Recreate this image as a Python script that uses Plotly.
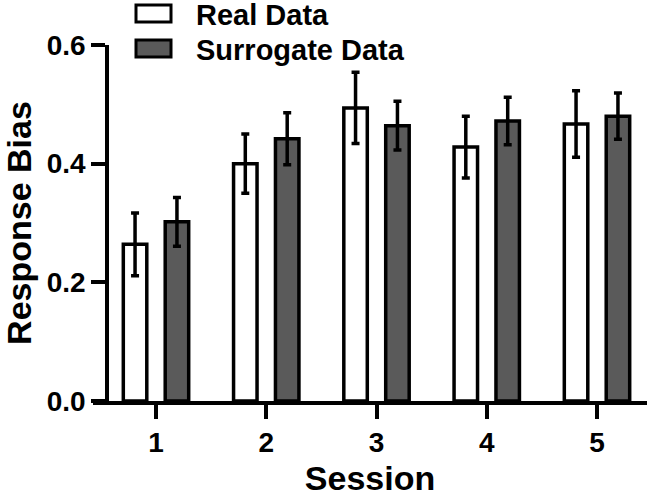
import plotly.graph_objects as go

sessions = [1, 2, 3, 4, 5]
tick_labels = ["1", "2", "3", "4", "5"]
real_mean = [0.264, 0.400, 0.494, 0.428, 0.467]
real_err = [0.053, 0.050, 0.060, 0.052, 0.056]
surr_mean = [0.302, 0.442, 0.464, 0.472, 0.480]
surr_err = [0.041, 0.044, 0.041, 0.040, 0.039]
series_names = ["Real Data", "Surrogate Data"]

FONT = "Liberation Sans, Arial, sans-serif"
BAR_W = 0.213
LINE_W = 3.5
OFF = 0.19

fig = go.Figure()
fig.add_trace(go.Bar(
    x=sessions, y=real_mean, name=series_names[0],
    width=BAR_W, offset=-OFF - BAR_W / 2,
    marker=dict(color="white", line=dict(color="black", width=LINE_W)),
    error_y=dict(type="data", array=real_err, visible=True, color="black", thickness=3.5, width=4),
    showlegend=False,
))
fig.add_trace(go.Bar(
    x=sessions, y=surr_mean, name=series_names[1],
    width=BAR_W, offset=OFF - BAR_W / 2,
    marker=dict(color="#5a5a5a", line=dict(color="black", width=LINE_W)),
    error_y=dict(type="data", array=surr_err, visible=True, color="black", thickness=3.5, width=4),
    showlegend=False,
))

# custom legend (paper coords)
L, R, T, B = 93, 647, 45, 401
W, H = R - L, B - T
def px_x(p):
    return (p - L) / W
def px_y(p):
    return (B - p) / H

legend_items = [(series_names[0], "white", 5, 22, 15), (series_names[1], "#5a5a5a", 40, 57, 50)]
for name, col, y0, y1, yc in legend_items:
    fig.add_shape(type="rect", xref="paper", yref="paper",
                  x0=px_x(136), x1=px_x(171), y0=px_y(y1), y1=px_y(y0),
                  fillcolor=col, line=dict(color="black", width=3))
    fig.add_annotation(xref="paper", yref="paper", x=px_x(194), y=px_y(yc),
                       text=f"<b>{name}</b>", showarrow=False, xanchor="left", yanchor="middle",
                       font=dict(family=FONT, size=29, color="black"))

fig.update_layout(
    width=649, height=497,
    margin=dict(l=L, r=649 - R, t=T, b=497 - B, autoexpand=False),
    plot_bgcolor="white", paper_bgcolor="white",
    barmode="overlay",
    font=dict(family=FONT, color="black"),
)
fig.update_xaxes(
    range=[1 - 63 / 110.25, 5 + 50 / 110.25],
    tickmode="array", tickvals=sessions, ticktext=[f"<b>{t}</b>" for t in tick_labels],
    ticks="outside", ticklen=14, tickwidth=3.5, tickcolor="black",
    showline=True, linewidth=3.5, linecolor="black",
    showgrid=False, zeroline=False,
    tickfont=dict(family=FONT, size=28, color="black"),
    title=dict(text="<b>Session</b>", font=dict(family=FONT, size=34, color="black"), standoff=10),
)
fig.update_yaxes(
    range=[0, 0.6],
    tickmode="array", tickvals=[0, 0.2, 0.4, 0.6], ticktext=["<b>0.0</b>", "<b>0.2</b>", "<b>0.4</b>", "<b>0.6</b>"],
    ticks="outside", ticklen=14, tickwidth=3.5, tickcolor="black",
    showline=True, linewidth=3.5, linecolor="black",
    showgrid=False, zeroline=False,
    anchor="free", position=px_x(107),
    tickfont=dict(family=FONT, size=28, color="black"),
    title=dict(text="<b>Response Bias</b>", font=dict(family=FONT, size=34, color="black"), standoff=12),
)

fig.write_html("out.html", config={"displayModeBar": False},
               post_script="document.body.style.margin='0';")
